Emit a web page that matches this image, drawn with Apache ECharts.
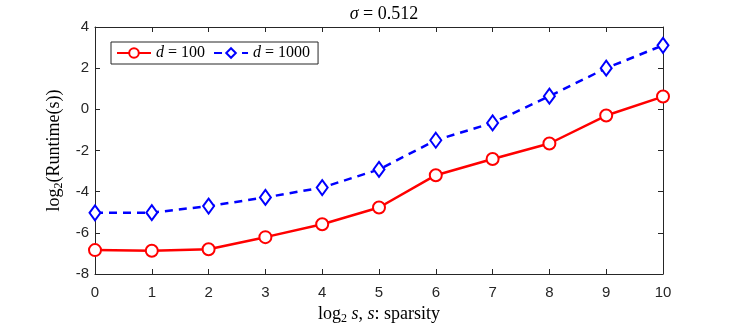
<!DOCTYPE html>
<html><head><meta charset="utf-8">
<script src="https://cdn.jsdelivr.net/npm/echarts@6/dist/echarts.min.js"></script>
<style>html,body{margin:0;padding:0;background:#fff}#c{width:733px;height:326px}</style>
</head><body><div id="c"></div>
<script>
const xValues = [0,1,2,3,4,5,6,7,8,9,10];
const d100 = [-6.84,-6.87,-6.8,-6.21,-5.58,-4.77,-3.2,-2.41,-1.66,-0.3,0.62];
const d1000 = [-5.03,-5.02,-4.7,-4.28,-3.8,-2.92,-1.5,-0.66,0.64,2.0,3.11];
const seriesNames = ['d = 100','d = 1000'];

const serif = '"Liberation Serif","DejaVu Serif",serif';
const sans = '"Liberation Sans","DejaVu Sans",sans-serif';
const axisColor = '#262626';

const chart = echarts.init(document.getElementById('c'));
const pairs = a => xValues.map((x,i)=>[x,a[i]]);
const tick = {inside:true,length:5,lineStyle:{color:axisColor}};
const line = {show:true,onZero:false,lineStyle:{color:axisColor,width:1}};
chart.setOption({
  animation:false,
  title:{text:'{i|σ} = 0.512',left:379,top:0,textAlign:'center',
    textStyle:{fontFamily:serif,fontSize:18,fontWeight:'normal',color:'#000',
      rich:{i:{fontFamily:serif,fontStyle:'italic',fontSize:18,color:'#000'}}}},
  grid:{left:95,right:70,top:27,bottom:52,outerBoundsMode:'none',containLabel:false},
  legend:{left:111,top:42,orient:'horizontal',itemWidth:34,itemHeight:12,itemGap:8,
    padding:[3,8,3,5],borderColor:axisColor,borderWidth:1,backgroundColor:'#fff',
    data:seriesNames,
    formatter:n=>'{i|d} = '+n.split('= ')[1],
    textStyle:{fontFamily:serif,fontSize:16,color:'#000',
      rich:{i:{fontFamily:serif,fontStyle:'italic',fontSize:16,color:'#000'}}}},
  xAxis:[{type:'value',min:0,max:10,interval:1,
    name:'log{sub|2} {i|s}, {i|s}: sparsity',nameLocation:'middle',nameGap:29,
    nameTextStyle:{fontFamily:serif,fontSize:18,color:'#000',
      rich:{sub:{fontFamily:serif,fontSize:12,color:'#000',padding:[9,0,0,0]},
            i:{fontFamily:serif,fontStyle:'italic',fontSize:18,color:'#000'}}},
    axisLine:line,axisTick:tick,
    axisLabel:{fontFamily:sans,fontSize:15,color:axisColor,margin:11},splitLine:{show:false}},
   {type:'value',position:'top',min:0,max:10,interval:1,
    axisLine:line,axisTick:tick,axisLabel:{show:false},splitLine:{show:false}}],
  yAxis:[{type:'value',min:-8,max:4,interval:2,
    name:'log{sub|2}(Runtime(s))',nameLocation:'middle',nameGap:24,nameRotate:90,
    nameTextStyle:{fontFamily:serif,fontSize:18,color:'#000',
      rich:{sub:{fontFamily:serif,fontSize:12,color:'#000',padding:[9,0,0,0]}}},
    axisLine:line,axisTick:Object.assign({show:true},tick),
    axisLabel:{fontFamily:sans,fontSize:15,color:axisColor,margin:6},splitLine:{show:false}},
   {type:'value',position:'right',min:-8,max:4,interval:2,
    axisLine:line,axisTick:Object.assign({show:true},tick),axisLabel:{show:false},splitLine:{show:false}}],
  series:[
    {name:seriesNames[0],type:'line',data:pairs(d100),symbol:'emptyCircle',symbolSize:12,
     color:'#ff0000',lineStyle:{width:2.5,color:'#ff0000'},itemStyle:{color:'#ff0000',borderWidth:2.2,borderColor:'#ff0000'},z:3},
    {name:seriesNames[1],type:'line',data:pairs(d1000),symbol:'emptyDiamond',symbolSize:[11,15],
     color:'#0000ff',lineStyle:{width:2.5,color:'#0000ff',type:[8,6]},itemStyle:{color:'#0000ff',borderWidth:2.2,borderColor:'#0000ff'},z:3}
  ]
});
</script></body></html>
